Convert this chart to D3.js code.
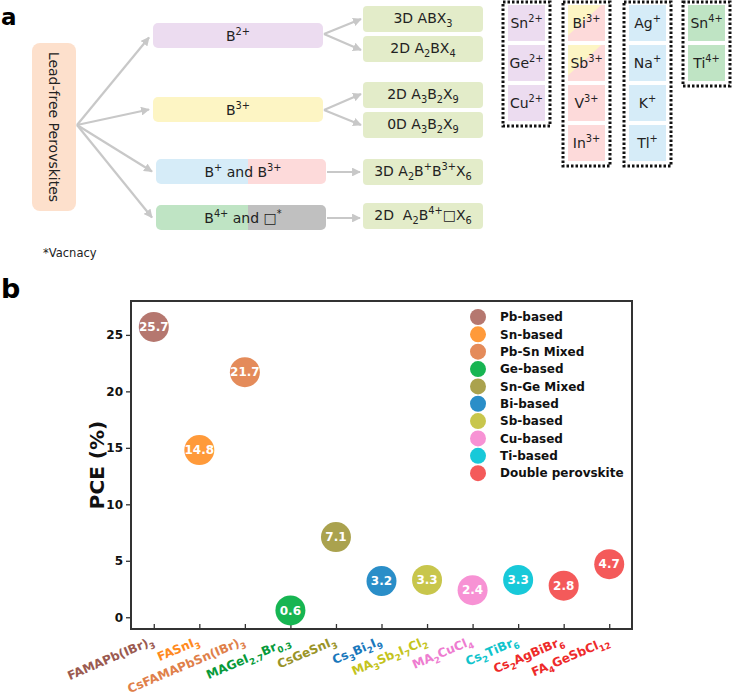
<!DOCTYPE html>
<html>
<head>
<meta charset="utf-8">
<script src="https://cdn.jsdelivr.net/npm/d3@7/dist/d3.min.js"></script>
<style>
  body { margin: 0; background: #fff; }
  text { font-family: "DejaVu Sans", Verdana, sans-serif; }
</style>
</head>
<body>
<script>
// ---- data (panel b) ----
const materials = ["FAMAPb(IBr)_{3}", "FASnI_{3}", "CsFAMAPbSn(IBr)_{3}", "MAGeI_{2.7}Br_{0.3}",
  "CsGeSnI_{3}", "Cs_{3}Bi_{2}I_{9}", "MA_{3}Sb_{2}I_{7}Cl_{2}", "MA_{2}CuCl_{4}",
  "Cs_{2}TiBr_{6}", "Cs_{2}AgBiBr_{6}", "FA_{4}GeSbCl_{12}"];
const pce = [25.7, 14.8, 21.7, 0.6, 7.1, 3.2, 3.3, 2.4, 3.3, 2.8, 4.7];
const pceLabels = ["25.7", "14.8", "21.7", "0.6", "7.1", "3.2", "3.3", "2.4", "3.3", "2.8", "4.7"];
const groupOf = [0, 1, 2, 3, 4, 5, 6, 7, 8, 9, 9];
const groups = ["Pb-based", "Sn-based", "Pb-Sn Mixed", "Ge-based", "Sn-Ge Mixed",
  "Bi-based", "Sb-based", "Cu-based", "Ti-based", "Double perovskite"];
const dotColors = ["#b5776f", "#ff9a3a", "#e48b5a", "#17b552", "#aaa24e",
  "#2a8ec8", "#c8c64c", "#f792d4", "#18c9d9", "#f45a5a"];
const labelColors = ["#9b5a50", "#ff8a1e", "#e0804a", "#079a3a", "#9a9428",
  "#1a78bc", "#c4c41c", "#ee7cd0", "#10c4cc", "#ee2a2a"];
const yTicks = [0, 5, 10, 15, 20, 25];

// ---- data (panel a) ----
const midTexts = ["B^{2+}", "B^{3+}", "B^{+} and B^{3+}", "B^{4+} and \u25a1^{*}"];
const outTexts = ["3D ABX_{3}", "2D A_{2}BX_{4}", "2D A_{3}B_{2}X_{9}", "0D A_{3}B_{2}X_{9}",
  "3D A_{2}B^{+}B^{3+}X_{6}", "2D\u00a0 A_{2}B^{4+}\u25a1X_{6}"];
const ionCols = [
  {x: 508, ions: ["Sn^{2+}", "Ge^{2+}", "Cu^{2+}"], fill: ["#ecdcf0", "#ecdcf0", "#ecdcf0"]},
  {x: 568, ions: ["Bi^{3+}", "Sb^{3+}", "V^{3+}", "In^{3+}"], fill: ["split", "split", "#fddada", "#fddada"]},
  {x: 629, ions: ["Ag^{+}", "Na^{+}", "K^{+}", "Tl^{+}"], fill: ["#d6ecf8", "#d6ecf8", "#d6ecf8", "#d6ecf8"]},
  {x: 688, ions: ["Sn^{4+}", "Ti^{4+}"], fill: ["#bfe4c4", "#bfe4c4"]}
];

const svg = d3.select("body").append("svg")
  .attr("width", 734).attr("height", 694);

// text with _{sub} and ^{sup}
function rich(t, str, size) {
  const re = /([_^])\{([^}]*)\}|([^_^]+)/g;
  let m, cur = 0;
  while ((m = re.exec(str)) !== null) {
    let txt, off, fs;
    if (m[3] !== undefined) { txt = m[3]; off = 0; fs = size; }
    else if (m[1] === "_") { txt = m[2]; off = 0.3 * size; fs = 0.7 * size; }
    else { txt = m[2]; off = -0.42 * size; fs = 0.7 * size; }
    t.append("tspan").attr("dy", off - cur).attr("font-size", fs).text(txt);
    cur = off;
  }
  return t;
}

// ================= panel a =================
svg.append("text").attr("x", 1).attr("y", 25).attr("font-size", 23)
  .attr("font-weight", "bold").text("a");

const defs = svg.append("defs");
defs.append("marker").attr("id", "arr").attr("viewBox", "0 0 10 10")
  .attr("refX", 9).attr("refY", 5).attr("markerWidth", 4).attr("markerHeight", 4)
  .attr("orient", "auto")
  .append("path").attr("d", "M0,0 L10,5 L0,10 z").attr("fill", "#c8c8c8");

const a = svg.append("g");
a.append("rect").attr("x", 32).attr("y", 43).attr("width", 44).attr("height", 168)
  .attr("rx", 8).attr("fill", "#fde0cc");
a.append("text").attr("transform", "translate(54,127) rotate(90)")
  .attr("text-anchor", "middle").attr("dy", "0.35em").attr("font-size", 14)
  .attr("fill", "#222").text("Lead-free Perovskites");

const midY = [23, 97, 159, 205];
const midX = [153, 153, 156, 156];
const midW = 170, boxH = 25;
const arrow = (x1, y1, x2, y2) => a.append("line")
  .attr("x1", x1).attr("y1", y1).attr("x2", x2).attr("y2", y2)
  .attr("stroke", "#c8c8c8").attr("stroke-width", 2.2).attr("marker-end", "url(#arr)");

midY.forEach((y, i) => arrow(77, 125, midX[i] - 4, y + boxH / 2 + (i === 0 ? 2 : 0)));

// middle boxes
const midFill = [["#ecdcf0"], ["#fdf5c4"], ["#d6ecf8", "#fddada"], ["#bfe4c4", "#c0c0c0"]];
midY.forEach((y, i) => {
  const x = midX[i];
  const cid = "mc" + i;
  defs.append("clipPath").attr("id", cid).append("rect")
    .attr("x", x).attr("y", y).attr("width", midW).attr("height", boxH).attr("rx", 5);
  const g = a.append("g").attr("clip-path", `url(#${cid})`);
  if (midFill[i].length === 1) {
    g.append("rect").attr("x", x).attr("y", y).attr("width", midW).attr("height", boxH).attr("fill", midFill[i][0]);
  } else {
    g.append("rect").attr("x", x).attr("y", y).attr("width", 92).attr("height", boxH).attr("fill", midFill[i][0]);
    g.append("rect").attr("x", x + 92).attr("y", y).attr("width", midW - 92).attr("height", boxH).attr("fill", midFill[i][1]);
  }
  rich(a.append("text").attr("x", x + midW / 2 + (i >= 2 ? 2 : 0)).attr("y", y + boxH / 2 + 5)
    .attr("text-anchor", "middle").attr("fill", "#222"), midTexts[i], 14);
});

// output boxes
const outY = [6, 36, 82, 112, 159, 203];
outY.forEach((y, i) => {
  a.append("rect").attr("x", 363).attr("y", y).attr("width", 120).attr("height", 26)
    .attr("rx", 4).attr("fill", "#e3ecc9");
  rich(a.append("text").attr("x", 423).attr("y", y + 17).attr("text-anchor", "middle")
    .attr("fill", "#222"), outTexts[i], 14);
});
// split arrows
arrow(324, 34, 361, 19); arrow(324, 34, 361, 50);
arrow(324, 110, 361, 94); arrow(324, 110, 361, 125);
arrow(327, 172, 360, 172); arrow(327, 218, 360, 218);

a.append("text").attr("x", 43).attr("y", 257).attr("font-size", 11.5)
  .attr("fill", "#222").text("*Vacnacy");

// ion columns
const cellW = 37, cellH = 36, cellStep = 40;
ionCols.forEach((c, ci) => {
  const n = c.ions.length;
  a.append("rect").attr("x", c.x - 5).attr("y", 2).attr("width", cellW + 10)
    .attr("height", n * cellStep + 4).attr("fill", "none").attr("stroke", "#111")
    .attr("stroke-width", 3).attr("stroke-dasharray", "2.5,2");
  c.ions.forEach((ion, k) => {
    const y = 5 + k * cellStep;
    if (c.fill[k] === "split") {
      a.append("rect").attr("x", c.x).attr("y", y).attr("width", cellW).attr("height", cellH).attr("fill", "#fddada");
      a.append("path").attr("d", `M${c.x},${y} L${c.x + cellW * 0.9},${y} L${c.x},${y + cellH * 0.85} Z`).attr("fill", "#fdf5c4");
    } else {
      a.append("rect").attr("x", c.x).attr("y", y).attr("width", cellW).attr("height", cellH).attr("fill", c.fill[k]);
    }
    rich(a.append("text").attr("x", c.x + cellW / 2).attr("y", y + cellH / 2 + 5)
      .attr("text-anchor", "middle").attr("fill", "#222"), ion, 14);
  });
});

// ================= panel b =================
svg.append("text").attr("x", 1).attr("y", 298).attr("font-size", 27)
  .attr("font-weight", "bold").text("b");

const L = 131, R = 632, T = 301, B = 629;
const x = d3.scaleLinear().domain([-0.5, 10.5]).range([L, R]);
const y = d3.scaleLinear().domain([-1.04, 28]).range([B, T]);

const b = svg.append("g");
// y axis
b.append("g").attr("transform", `translate(${L},0)`)
  .call(d3.axisLeft(y).tickValues(yTicks).tickSize(5).tickPadding(3))
  .call(g => g.select(".domain").remove())
  .call(g => g.selectAll("line").attr("stroke", "#333").attr("stroke-width", 1.3))
  .call(g => g.selectAll("text").attr("font-size", 12).attr("font-weight", "bold")
    .attr("fill", "#111").attr("font-family", "DejaVu Sans"));
// x axis (ticks inward)
b.append("g").attr("transform", `translate(0,${B})`)
  .call(d3.axisBottom(x).tickValues(d3.range(materials.length)).tickSize(-5).tickFormat(""))
  .call(g => g.select(".domain").remove())
  .call(g => g.selectAll("line").attr("stroke", "#333").attr("stroke-width", 1.3));

b.append("rect").attr("x", L).attr("y", T).attr("width", R - L).attr("height", B - T)
  .attr("fill", "none").attr("stroke", "#333").attr("stroke-width", 2);

// x labels
materials.forEach((m, i) => {
  rich(b.append("text")
    .attr("transform", `translate(${x(i) + 1},${B + 15}) rotate(-23)`)
    .attr("text-anchor", "end").attr("font-weight", "bold")
    .attr("fill", labelColors[groupOf[i]]), m, 12.2);
});

b.append("text").attr("transform", `translate(104,${(T + B) / 2}) rotate(-90)`)
  .attr("text-anchor", "middle").attr("font-size", 20).attr("font-weight", "bold")
  .attr("fill", "#111").text("PCE (%)");

// points
const pts = b.selectAll("g.pt").data(pce).enter().append("g").attr("class", "pt");
pts.append("circle").attr("cx", (d, i) => x(i)).attr("cy", d => y(d)).attr("r", 15)
  .attr("fill", (d, i) => dotColors[groupOf[i]]);
pts.append("text").attr("x", (d, i) => x(i)).attr("y", d => y(d)).attr("dy", "0.36em")
  .attr("text-anchor", "middle").attr("font-size", 12).attr("font-weight", "bold")
  .attr("fill", "#fff").text((d, i) => pceLabels[i]);

// legend
const lg = b.append("g").attr("transform", "translate(478,317)");
groups.forEach((gname, k) => {
  lg.append("circle").attr("cx", 0).attr("cy", k * 17.35).attr("r", 8).attr("fill", dotColors[k]);
  lg.append("text").attr("x", 22).attr("y", k * 17.35).attr("dy", "0.36em")
    .attr("font-size", 12).attr("font-weight", "bold").attr("fill", "#111").text(gname);
});
</script>
</body>
</html>
